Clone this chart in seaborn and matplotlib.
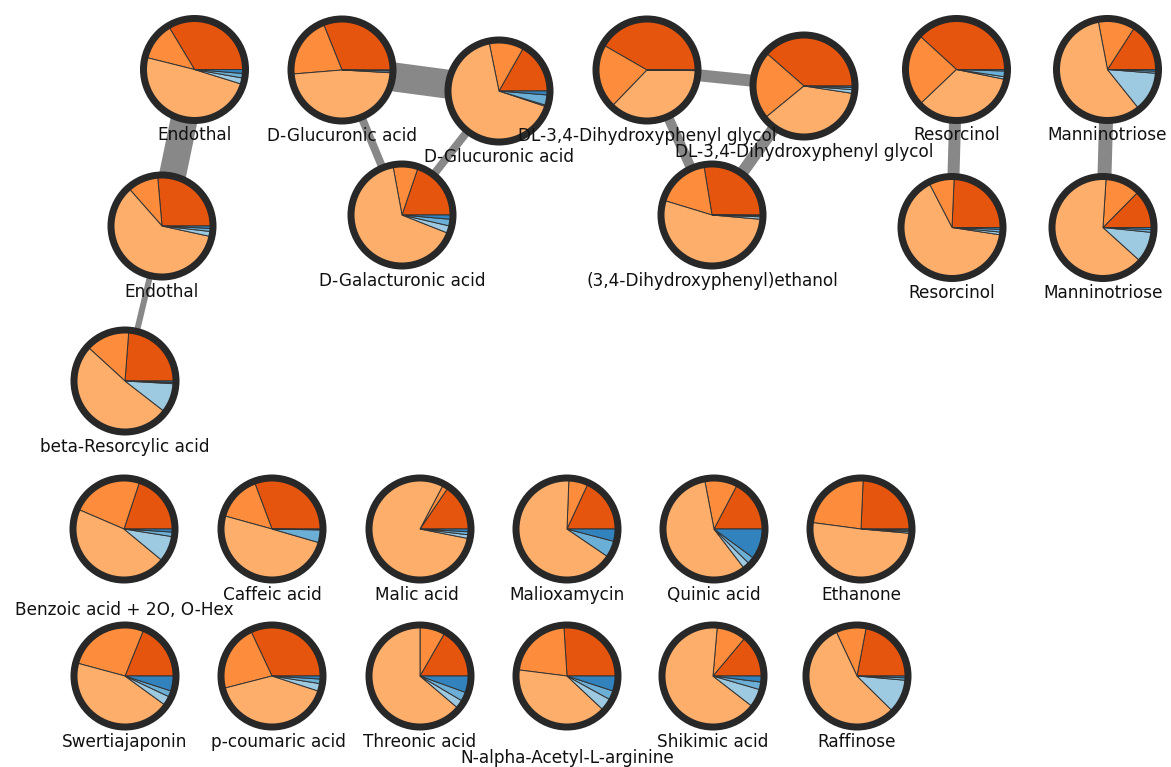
import numpy as np
import pandas as pd
import matplotlib
matplotlib.use("Agg")
import matplotlib.pyplot as plt
from matplotlib.patches import Circle
import seaborn as sns

# ---------------- data ----------------
names = [
    "Endothal", "Endothal", "beta-Resorcylic acid",
    "D-Glucuronic acid", "D-Glucuronic acid", "D-Galacturonic acid",
    "DL-3,4-Dihydroxyphenyl glycol", "DL-3,4-Dihydroxyphenyl glycol",
    "(3,4-Dihydroxyphenyl)ethanol",
    "Resorcinol", "Resorcinol", "Manninotriose", "Manninotriose",
    "Benzoic acid + 2O, O-Hex", "Caffeic acid", "Malic acid", "Malioxamycin",
    "Quinic acid", "Ethanone",
    "Swertiajaponin", "p-coumaric acid", "Threonic acid",
    "N-alpha-Acetyl-L-arginine", "Shikimic acid", "Raffinose",
]

# slice shares (percent) per category, counter-clockwise from 3 o'clock
share_dark_orange = [33.6, 26.4, 23.8, 31.1, 16.8, 19.8, 41.7, 38.6, 27.6, 38.2, 24.3, 15.9, 12.6,
                     19.9, 30.7, 15.5, 18.1, 17.3, 24.3, 18.9, 32.0, 16.7, 26.0, 13.9, 22.0]
share_orange      = [12.5, 10.1, 14.4, 20.2, 11.4, 8.1, 21.1, 22.4, 17.7, 23.9, 8.3, 12.1, 11.4,
                     23.6, 15.0, 1.8, 6.3, 10.7, 23.6, 26.9, 22.0, 8.3, 22.0, 9.7, 10.0]
share_light_orange = [49.1, 60.1, 51.3, 47.8, 66.7, 66.1, 37.0, 36.7, 53.3, 34.7, 65.0, 57.7, 64.3,
                      45.4, 49.8, 79.6, 66.1, 57.4, 50.7, 44.2, 41.0, 63.8, 40.0, 65.8, 55.6]
share_light_blue  = [2.0, 1.6, 9.6, 0.0, 0.4, 2.4, 0.0, 1.2, 0.8, 0.8, 0.9, 13.0, 10.1,
                     8.5, 0.0, 1.2, 0.0, 2.2, 0.5, 3.0, 2.5, 2.7, 4.0, 6.0, 11.0]
share_mid_blue    = [1.5, 1.0, 0.4, 0.6, 3.4, 2.2, 0.1, 0.7, 0.4, 1.9, 0.9, 0.7, 0.9,
                     1.5, 4.2, 1.0, 5.4, 2.3, 0.5, 2.0, 1.5, 3.0, 3.0, 2.5, 0.8]
share_dark_blue   = [1.3, 0.8, 0.5, 0.3, 1.3, 1.4, 0.1, 0.5, 0.2, 0.5, 0.6, 0.55, 0.7,
                     1.0, 0.3, 0.9, 4.1, 10.1, 0.4, 5.0, 1.0, 5.5, 5.0, 2.0, 0.6]

# network edges (node index pairs) and their weights
edge_source = [0, 1, 3, 3, 4, 6, 6, 7, 9, 11]
edge_target = [1, 2, 4, 5, 5, 7, 8, 8, 10, 12]
edge_weight = [27, 6, 29, 8, 8, 12, 10, 12, 12, 14]

# ---------------- layout (pixel positions of the network layout) ----------------
node_x = [194.5, 162, 125, 342, 499, 402, 647, 804, 712, 956.5, 952, 1107.5, 1103,
          124, 272, 420, 567, 714, 861, 125, 272, 420, 567, 713, 857]
node_y = [69.5, 226, 381, 70, 91, 215, 70, 86, 215, 69.5, 227.5, 69.5, 227.5,
          529, 529, 529, 529, 529, 529, 676, 676, 676, 676, 676, 676]
label_dx = [0] * 25
label_dy = [66] * 25
label_dy[13] = 81
label_dy[22] = 82
label_dx[20] = 6
label_dx[15] = -3

# ---------------- style ----------------
sns.set_theme(style="white")
plt.rcParams['font.family'] = ['DejaVu Sans']

pal = sns.color_palette("tab20c")
slice_colors = [pal[4], pal[5], pal[6], pal[2], pal[1], pal[0]]  # e6550d fd8d3c fdae6b 9ecae1 6baed6 3182bd

W, H = 1171, 767
fig = plt.figure(figsize=(W / 100, H / 100), dpi=100)
ax = fig.add_axes([0, 0, 1, 1])

px = 0.72  # points per pixel at dpi 100
R_OUT = 54.5
RING = 7.0
R = R_OUT - RING / 2

# edges via seaborn
rows = []
for k, (s, t, w) in enumerate(zip(edge_source, edge_target, edge_weight)):
    rows.append(dict(x=node_x[s], y=node_y[s], edge=k, w=w))
    rows.append(dict(x=node_x[t], y=node_y[t], edge=k, w=w))
edf = pd.DataFrame(rows)
sizes = {w: w * px for w in sorted(set(edge_weight))}
sns.lineplot(data=edf, x="x", y="y", units="edge", estimator=None, sort=False,
             size="w", sizes=sizes, color="#888888", legend=False, ax=ax,
             zorder=0.5, solid_capstyle="butt")

shares = np.array([share_dark_orange, share_orange, share_light_orange,
                   share_light_blue, share_mid_blue, share_dark_blue]).T

for i, name in enumerate(names):
    vals = shares[i]
    keep = vals > 0
    v = vals[keep]
    cols = [c for c, k in zip(slice_colors, keep) if k]
    ax.pie(v, colors=cols, center=(node_x[i], node_y[i]), radius=R,
           startangle=0, counterclock=False, normalize=True,
           wedgeprops=dict(edgecolor="#333333", linewidth=0.7, zorder=2))
    ax.add_patch(Circle((node_x[i], node_y[i]), R, fill=False,
                        edgecolor="#282828", linewidth=RING * px, zorder=3))
    ax.text(node_x[i] + label_dx[i], node_y[i] + label_dy[i], name,
            ha="center", va="center", fontsize=12.2, color="#111111", zorder=5)

ax.set_xlim(0, W)
ax.set_ylim(H, 0)
ax.set_aspect("equal")
ax.axis("off")

fig.savefig("out.png", dpi=100, facecolor="white")
